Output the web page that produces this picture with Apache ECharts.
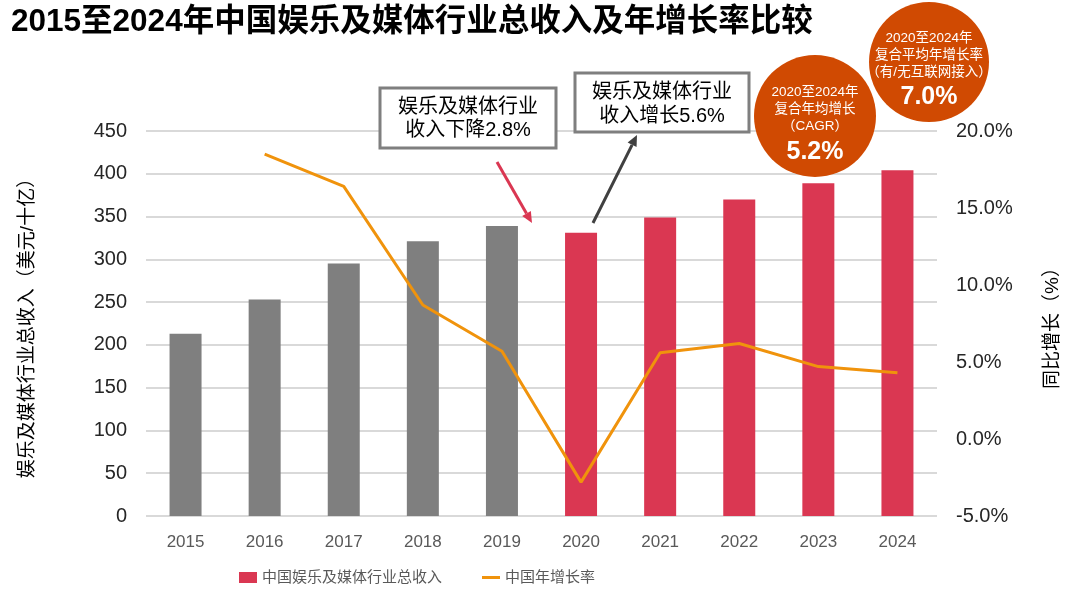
<!DOCTYPE html>
<html><head><meta charset="utf-8">
<script src="https://cdn.jsdelivr.net/npm/echarts@6/dist/echarts.min.js"></script>
<style>html,body{margin:0;padding:0;background:#fff}#c{width:1080px;height:595px}</style>
</head><body><div id="c"></div>
<script>
const years = ['2015','2016','2017','2018','2019','2020','2021','2022','2023','2024'];
const revenue = [213, 253, 295, 321, 339, 331, 349, 370, 389, 404];
const growth = [null, 18.5, 16.4, 8.7, 5.7, -2.8, 5.6, 6.2, 4.7, 4.3];
const forecastFrom = '2020';
const seriesNames = ['中国娱乐及媒体行业总收入', '中国年增长率'];

const FONT = "'Liberation Sans', 'Noto Sans CJK SC', sans-serif";
const GRAY = '#7F7F7F', RED = '#DA3752', ORANGE = '#F0930C', BADGE = '#D04A02';

const startIdx = years.indexOf(forecastFrom);
const barData = revenue.map((v, i) => ({ value: v, itemStyle: { color: i < startIdx ? GRAY : RED } }));

function arrow(x1, y1, x2, y2, color) {
  const a = Math.atan2(y2 - y1, x2 - x1), len = 11, w = 5;
  const bx = x2 - len * Math.cos(a), by = y2 - len * Math.sin(a);
  const px = -Math.sin(a) * w, py = Math.cos(a) * w;
  return [
    { type: 'line', z: 100, shape: { x1, y1, x2: bx, y2: by }, style: { stroke: color, lineWidth: 3 } },
    { type: 'polygon', z: 100, shape: { points: [[x2, y2], [bx + px, by + py], [bx - px, by - py]] }, style: { fill: color } }
  ];
}
function txt(x, y, t, size, bold) {
  return { type: 'text', z: 101, x, y, style: { text: t, fill: '#fff', font: (bold ? 'bold ' : '') + size + 'px ' + FONT, textAlign: 'center', textVerticalAlign: 'middle' } };
}

const chart = echarts.init(document.getElementById('c'));
chart.setOption({
  animation: false,
  title: { text: '2015至2024年中国娱乐及媒体行业总收入及年增长率比较', left: 6, top: 2,
    textStyle: { fontFamily: FONT, fontSize: 31.5, fontWeight: 'bold', color: '#000' } },
  grid: { left: 146, right: 143, top: 131, bottom: 79 },
  legend: { left: 239, top: 570, padding: 0, itemGap: 40, itemWidth: 18, itemHeight: 11,
    textStyle: { fontFamily: FONT, fontSize: 15, color: '#595959' },
    data: [ { name: seriesNames[0], icon: 'rect' }, { name: seriesNames[1], icon: 'path://M0,0 H18 V3 H0 Z' } ] },
  xAxis: { type: 'category', data: years, axisLine: { show: false }, axisTick: { show: false },
    axisLabel: { margin: 18, fontFamily: FONT, fontSize: 17, color: '#595959' } },
  yAxis: [
    { type: 'value', min: 0, max: 450, interval: 50, name: '娱乐及媒体行业总收入（美元/十亿）', nameLocation: 'middle', nameGap: 109, nameRotate: 90,
      nameTextStyle: { fontFamily: FONT, fontSize: 19, color: '#000' },
      axisLabel: { margin: 19, fontFamily: FONT, fontSize: 20, color: '#262626' },
      splitLine: { lineStyle: { color: '#D9D9D9', width: 2 } } },
    { type: 'value', min: -5, max: 20, interval: 5, name: '同比增长（%）', nameLocation: 'middle', nameGap: 106, nameRotate: 90,
      nameTextStyle: { fontFamily: FONT, fontSize: 19, color: '#000' },
      axisLabel: { margin: 19, fontFamily: FONT, fontSize: 20, color: '#262626', formatter: v => v.toFixed(1) + '%' },
      splitLine: { show: false } }
  ],
  series: [
    { name: seriesNames[0], type: 'bar', data: barData, barWidth: 32, itemStyle: { color: RED } },
    { name: seriesNames[1], type: 'line', yAxisIndex: 1, data: growth, showSymbol: false, symbol: 'none',
      lineStyle: { color: ORANGE, width: 3 }, itemStyle: { color: ORANGE } }
  ],
  graphic: [
    { type: 'rect', z: 100, shape: { x: 380, y: 88, width: 176, height: 60 }, style: { fill: '#fff', stroke: '#7F7F7F', lineWidth: 3 } },
    { type: 'text', z: 101, x: 468, y: 119, style: { text: '娱乐及媒体行业\n收入下降2.8%', fill: '#000', font: '20px ' + FONT, lineHeight: 23, textAlign: 'center', textVerticalAlign: 'middle' } },
    { type: 'rect', z: 100, shape: { x: 575, y: 73, width: 174, height: 59 }, style: { fill: '#fff', stroke: '#7F7F7F', lineWidth: 3 } },
    { type: 'text', z: 101, x: 662, y: 104, style: { text: '娱乐及媒体行业\n收入增长5.6%', fill: '#000', font: '20px ' + FONT, lineHeight: 24, textAlign: 'center', textVerticalAlign: 'middle' } },
    ...arrow(497, 162, 532, 223, RED),
    ...arrow(593, 223, 637, 135, '#404040'),
    { type: 'circle', z: 100, shape: { cx: 815, cy: 116, r: 61 }, style: { fill: BADGE } },
    txt(815, 92, '2020至2024年', 13.5), txt(815, 109, '复合年均增长', 13.5), txt(815, 126, '（CAGR）', 13.5), txt(815, 152, '5.2%', 25, true),
    { type: 'circle', z: 100, shape: { cx: 929, cy: 62, r: 60 }, style: { fill: BADGE } },
    txt(929, 38, '2020至2024年', 13.5), txt(929, 55, '复合平均年增长率', 13.5), txt(929, 72, '（有/无互联网接入）', 13.5), txt(929, 97, '7.0%', 25, true)
  ]
});
</script></body></html>
